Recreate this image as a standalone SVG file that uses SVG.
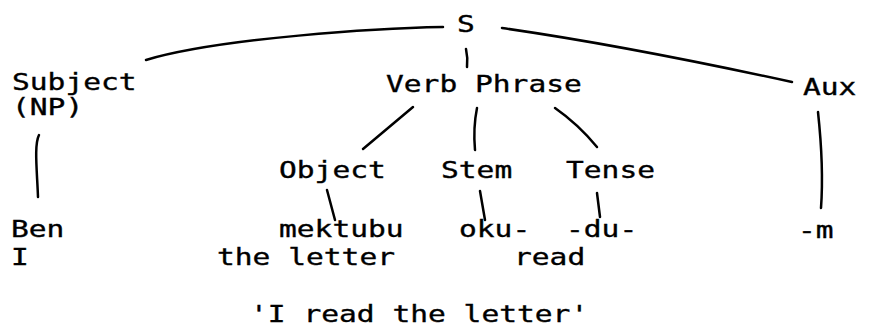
<svg xmlns="http://www.w3.org/2000/svg" width="870" height="330" viewBox="0 0 870 330">
<style>
text{font-family:"DejaVu Sans Mono","Liberation Mono",monospace;font-size:23px;fill:#000;stroke:#000;stroke-width:0.35;}
.c path{fill:none;stroke:#000;stroke-width:2.5;stroke-linecap:round;stroke-linejoin:round;}
</style>
<rect width="870" height="330" fill="#fff"/>
<g id="S"><text x="457" y="32" textLength="17.8" lengthAdjust="spacingAndGlyphs">S</text></g>
<g id="subject"><text x="12" y="90" textLength="124.6" lengthAdjust="spacingAndGlyphs">Subject</text><text x="12" y="115" textLength="71.2" lengthAdjust="spacingAndGlyphs">(NP)</text></g>
<g id="verb-phrase"><text x="386" y="92" textLength="195.8" lengthAdjust="spacingAndGlyphs">Verb Phrase</text></g>
<g id="aux"><text x="803" y="95" textLength="53.4" lengthAdjust="spacingAndGlyphs">Aux</text></g>
<g id="object"><text x="279" y="178" textLength="106.8" lengthAdjust="spacingAndGlyphs">Object</text></g>
<g id="stem"><text x="441" y="178" textLength="71.2" lengthAdjust="spacingAndGlyphs">Stem</text></g>
<g id="tense"><text x="566" y="178" textLength="89" lengthAdjust="spacingAndGlyphs">Tense</text></g>
<g id="ben"><text x="11" y="237" textLength="53.4" lengthAdjust="spacingAndGlyphs">Ben</text><text x="11" y="265" textLength="17.8" lengthAdjust="spacingAndGlyphs">I</text></g>
<g id="mektubu"><text x="279" y="237" textLength="124.6" lengthAdjust="spacingAndGlyphs">mektubu</text><text x="217" y="265" textLength="178" lengthAdjust="spacingAndGlyphs">the letter</text></g>
<g id="oku"><text x="459" y="237" textLength="71.2" lengthAdjust="spacingAndGlyphs">oku-</text><text x="514" y="265" textLength="71.2" lengthAdjust="spacingAndGlyphs">read</text></g>
<g id="du"><text x="566" y="237" textLength="71.2" lengthAdjust="spacingAndGlyphs">-du-</text></g>
<g id="m"><text x="798" y="238" textLength="35.6" lengthAdjust="spacingAndGlyphs">-m</text></g>
<g id="gloss"><text x="250" y="322" textLength="338.2" lengthAdjust="spacingAndGlyphs">'I read the letter'</text></g>
<g id="connectors" class="c">
<path d="M443,27 C380,28 220,38 146,60"/>
<path d="M502,28 C600,42 700,62 792,82"/>
<path d="M466,49 Q468,58 467,67"/>
<path d="M413,107 L363,149"/>
<path d="M477,108 Q473,128 475,150"/>
<path d="M555,108 Q578,124 597,147"/>
<path d="M39,135 C34,145 37,170 38,197"/>
<path d="M327,190 L335,220"/>
<path d="M480,191 L485,220"/>
<path d="M597,193 L600,217"/>
<path d="M818,112 C821,140 823,180 821,208"/>
</g>
</svg>
